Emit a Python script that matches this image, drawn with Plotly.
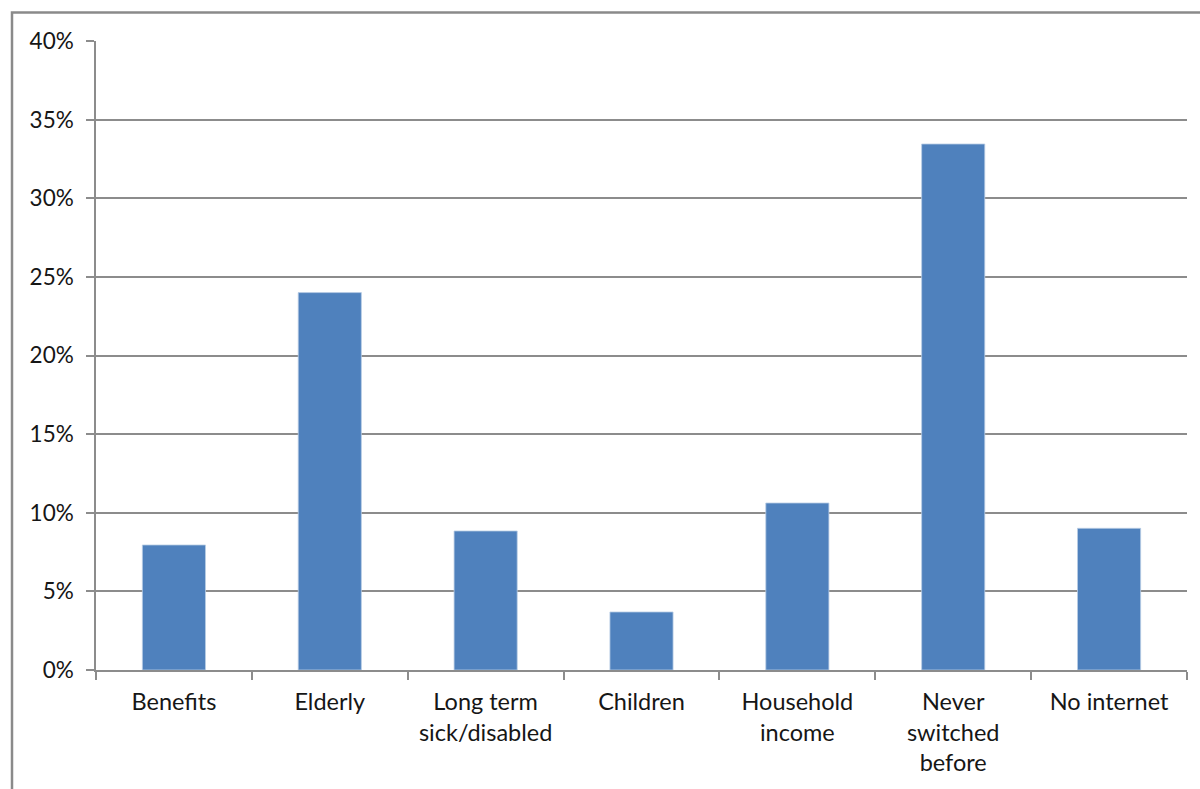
import plotly.graph_objects as go

# Share of customers in each group
categories = [
    "Benefits",
    "Elderly",
    "Long term<br>sick/disabled",
    "Children",
    "Household<br>income",
    "Never<br>switched<br>before",
    "No internet",
]
shares = [0.0795, 0.240, 0.0884, 0.0369, 0.1062, 0.3345, 0.0901]
y_ticks = [0, 0.05, 0.10, 0.15, 0.20, 0.25, 0.30, 0.35, 0.40]

W, H = 1200, 789
L, R, T, B = 96, 13, 41, 119

fig = go.Figure(
    go.Bar(
        x=categories,
        y=shares,
        marker=dict(color="#4F81BD", line=dict(color="#b9cde5", width=0.8)),
        hoverinfo="skip",
    )
)

grid_col = "#8c8c8c"
font_family = "Lato, 'Open Sans', sans-serif"

fig.update_layout(
    width=W,
    height=H,
    margin=dict(l=L, r=R, t=T, b=B, pad=0),
    paper_bgcolor="white",
    plot_bgcolor="white",
    bargap=0.595,
    showlegend=False,
    font=dict(family=font_family, size=22, color="#161616"),
    xaxis=dict(
        showline=True,
        linecolor=grid_col,
        linewidth=1.5,
        ticks="outside",
        tickson="boundaries",
        ticklen=8,
        tickcolor=grid_col,
        tickwidth=1.5,
        showgrid=False,
        tickfont=dict(size=23.5),
        ticklabelstandoff=10,
        fixedrange=True,
    ),
    yaxis=dict(
        range=[0, 0.4],
        tickvals=y_ticks,
        tickformat=".0%",
        showline=True,
        linecolor=grid_col,
        linewidth=1.5,
        ticks="outside",
        ticklen=8,
        tickcolor=grid_col,
        tickwidth=1.5,
        showgrid=True,
        gridcolor=grid_col,
        gridwidth=1.5,
        zeroline=False,
        ticklabelstandoff=8,
        tickfont=dict(size=22.5),
        fixedrange=True,
    ),
)

# Outer chart frame (runs off the right and bottom edges)
pw = W - L - R
ph = H - T - B
fig.add_shape(
    type="rect",
    xref="paper",
    yref="paper",
    x0=(12 - L) / pw,
    x1=(W + 20 - L) / pw,
    y0=-(H + 20 - (H - B)) / ph,
    y1=(H - B - 12.5) / ph,
    line=dict(color="#8a8a8a", width=2.5),
    layer="below",
)

fig.write_html("out.html")
